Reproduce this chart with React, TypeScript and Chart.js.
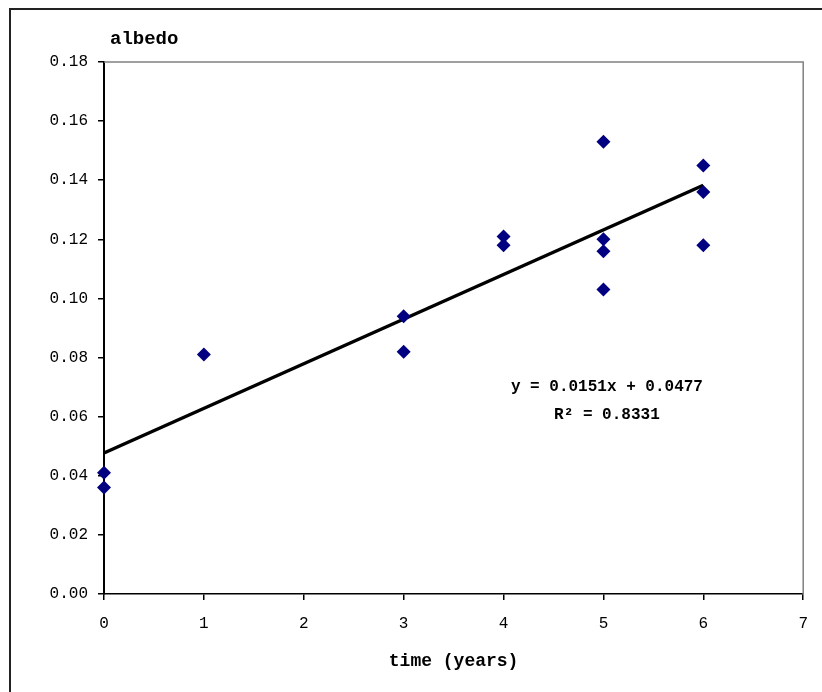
import React, { useEffect, useRef } from "react";
import { Chart, registerables } from "chart.js";

Chart.register(...registerables);

// ---- data ----
const timeYears = [0, 0, 1, 3, 3, 4, 4, 5, 5, 5, 5, 6, 6, 6];
const albedoValues = [0.041, 0.036, 0.081, 0.094, 0.082, 0.121, 0.118, 0.153, 0.120, 0.116, 0.103, 0.145, 0.136, 0.118];
const trendSlope = 0.0151;
const trendIntercept = 0.0477;
const trendRange = [0, 6];
const equationLabel = "y = 0.0151x + 0.0477";
const r2Label = "R² = 0.8331";
const yTitle = "albedo";
const xTitle = "time (years)";
const xTicks = [0, 1, 2, 3, 4, 5, 6, 7];
const yTicks = [0, 0.02, 0.04, 0.06, 0.08, 0.1, 0.12, 0.14, 0.16, 0.18];

const MONO = "'Liberation Mono', 'Courier New', monospace";

export default function App() {
  const ref = useRef<HTMLCanvasElement | null>(null);

  useEffect(() => {
    if (!ref.current) return;
    const points = timeYears.map((x, i) => ({ x, y: albedoValues[i] }));
    const trend = trendRange.map((x) => ({ x, y: trendSlope * x + trendIntercept }));

    const decor = {
      id: "decor",
      beforeDraw(chart: any) {
        const ctx = chart.ctx;
        ctx.save();
        ctx.fillStyle = "#ffffff";
        ctx.fillRect(0, 0, chart.width, chart.height);
        ctx.strokeStyle = "#222";
        ctx.lineWidth = 2;
        ctx.strokeRect(10, 9, 1000, 1000);
        ctx.restore();
      },
      afterDraw(chart: any) {
        const ctx = chart.ctx;
        const a = chart.chartArea;
        const xs = chart.scales.x;
        const ys = chart.scales.y;
        ctx.save();
        ctx.strokeStyle = "#808080";
        ctx.lineWidth = 1.5;
        ctx.beginPath();
        ctx.moveTo(a.left, a.top);
        ctx.lineTo(a.right, a.top);
        ctx.lineTo(a.right, a.bottom);
        ctx.stroke();

        ctx.fillStyle = "#000";
        ctx.font = `bold 19px ${MONO}`;
        ctx.textAlign = "left";
        ctx.textBaseline = "middle";
        ctx.fillText(yTitle, a.left + 6, 39);

        ctx.font = `bold 16px ${MONO}`;
        ctx.textAlign = "center";
        const cx = xs.getPixelForValue(5.035);
        const cy = ys.getPixelForValue(0.07);
        ctx.fillText(equationLabel, cx, cy);
        ctx.fillText(r2Label, cx, cy + 28);
        ctx.restore();
      },
    };

    const chart = new Chart(ref.current, {
      type: "scatter",
      data: {
        datasets: [
          {
            label: "albedo",
            data: points,
            pointStyle: "rectRot",
            pointRadius: 7,
            pointHoverRadius: 7,
            backgroundColor: "#000080",
            borderColor: "#000080",
            borderWidth: 0,
            clip: false,
          } as any,
          {
            label: "trend",
            type: "line",
            data: trend,
            borderColor: "#000",
            borderWidth: 3.5,
            pointRadius: 0,
            fill: false,
            clip: false,
          } as any,
        ],
      },
      options: {
        responsive: false,
        animation: false,
        devicePixelRatio: 1,
        layout: { padding: { left: 0, top: 62, right: 18, bottom: 0 } },
        plugins: {
          legend: { display: false },
          tooltip: { enabled: false },
          title: { display: false },
        },
        scales: {
          x: {
            type: "linear",
            min: 0,
            max: 7,
            afterFit: (s: any) => {
              s.height = 98;
            },
            afterBuildTicks: (s: any) => {
              s.ticks = xTicks.map((v) => ({ value: v }));
            },
            ticks: {
              color: "#000",
              font: { family: MONO, size: 16 },
              padding: 14,
              maxRotation: 0,
              callback: (v: any) => String(v),
            },
            grid: { drawOnChartArea: false, drawTicks: true, tickLength: 6, color: "#000", lineWidth: 1.5 },
            border: { color: "#000", width: 1.5 },
            title: {
              display: true,
              text: xTitle,
              color: "#000",
              font: { family: MONO, size: 18, weight: "bold" },
              padding: { top: 0, bottom: 20 },
            },
          },
          y: {
            type: "linear",
            min: 0,
            max: 0.18,
            afterFit: (s: any) => {
              s.width = 104;
            },
            afterBuildTicks: (s: any) => {
              s.ticks = yTicks.map((v) => ({ value: v }));
            },
            ticks: {
              color: "#000",
              font: { family: MONO, size: 16 },
              padding: 10,
              callback: (v: any) => Number(v).toFixed(2),
            },
            grid: { drawOnChartArea: false, drawTicks: true, tickLength: 6, color: "#000", lineWidth: 1.5 },
            border: { color: "#000", width: 2 },
          },
        },
      },
      plugins: [decor],
    });
    return () => chart.destroy();
  }, []);

  return (
    <div style={{ position: "absolute", left: 0, top: 0, width: 822, height: 692, background: "#fff" }}>
      <canvas ref={ref} width={822} height={692} style={{ display: "block" }} />
    </div>
  );
}
